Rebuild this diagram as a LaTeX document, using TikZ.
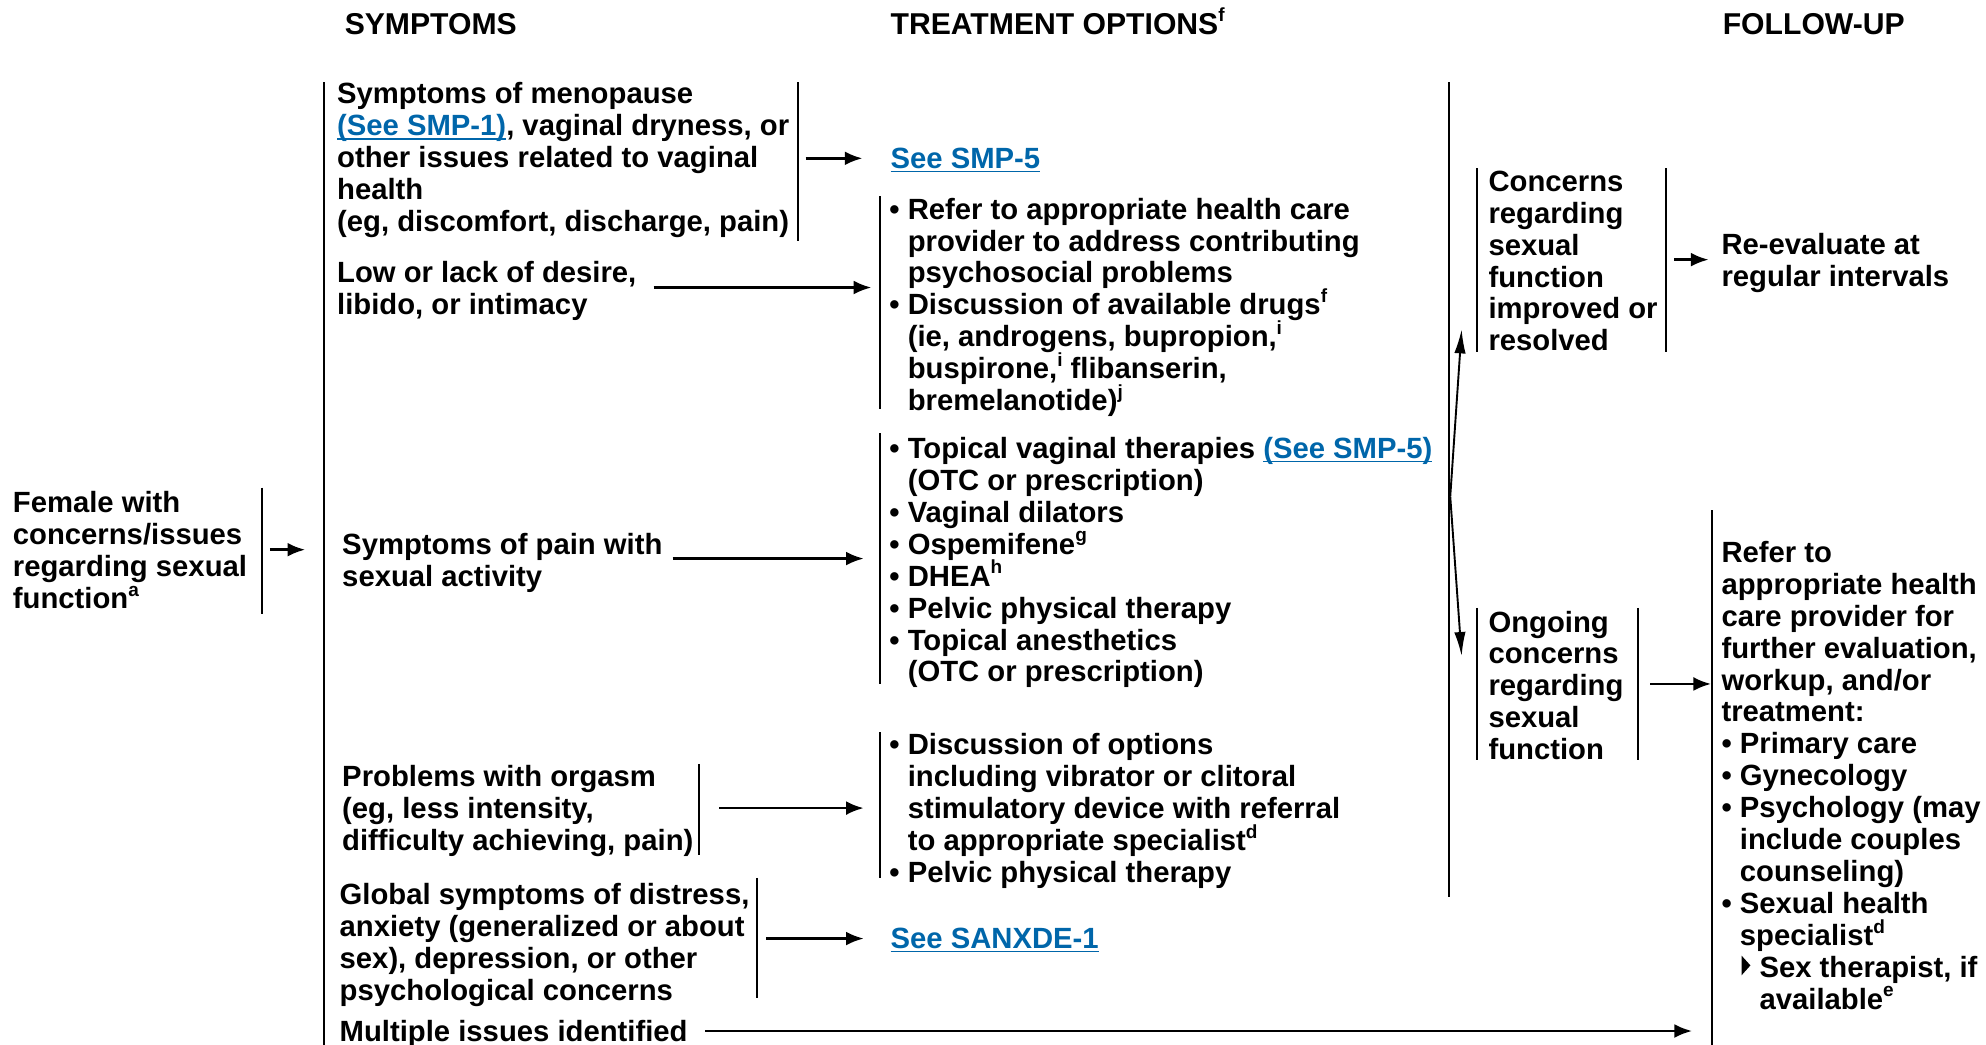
\documentclass[tikz,border=0pt]{standalone}
\usepackage{fontspec}
\setmainfont{Liberation Sans}
\usetikzlibrary{arrows.meta}
\definecolor{linkblue}{RGB}{0,102,170}
% raised footnote letters (kept out of the line height)
\newcommand\supr[1]{\raisebox{0.42em}[0pt][0pt]{\fontsize{15}{15}\selectfont #1}}
% underlined cross-reference
\newsavebox\lnkbox
\newcommand\lnk[1]{{\color{linkblue}\sbox\lnkbox{#1}\rlap{\rule[-3pt]{\wd\lnkbox}{1.3pt}}\usebox\lnkbox}}
% bullet and hanging indent
\newcommand\bul{•\ }
\newcommand\hang{\hphantom{•\ }}
% room for the drawn sub-bullet triangle
\newcommand\trihang{\hspace{15.5pt}}
\begin{document}
% multi-line nodes are placed by the baseline of their last line
\begin{tikzpicture}[x=1pt,y=-1pt,
  txt/.style={inner sep=0pt, anchor=base west, align=left,
    font=\bfseries\fontsize{23.1}{25.2}\selectfont},
  head/.style={inner sep=0pt, anchor=base west,
    font=\bfseries\fontsize{23.8}{25}\selectfont},
  bar/.style={line width=1.5pt},
  arr/.style={line width=2.2pt, -{Latex[length=14pt,width=11pt]}},
  thinarr/.style={line width=1.5pt, -{Latex[length=19pt,width=9pt]}}]
\useasboundingbox (0,0) rectangle (1568,825);

% column headings
\node[head] (hsym) at (272,27) {SYMPTOMS};
\node[head] (htreat) at (703,27) {TREATMENT OPTIONS\supr{f}};
\node[head] (hfol) at (1360,27) {FOLLOW-UP};

% entry point
\node[txt] (female) at (10,480.6) {Female with\\concerns/issues\\regarding sexual\\function\supr{a}};
\draw[bar] (207,385) -- (207,485);
\coordinate (femout) at (213,434);
\coordinate (symin) at (241,434);
\draw[arr] (femout) -- (symin);

% symptom column spine
\draw[bar] (256,65) -- (256,825);

% symptoms
\node[txt] (meno) at (266,182.8) {Symptoms of menopause\\\lnk{(See SMP-1)}, vaginal dryness, or\\other issues related to vaginal\\health\\(eg, discomfort, discharge, pain)};
\draw[bar] (630,65) -- (630,190);

\node[txt] (desire) at (266,248.2) {Low or lack of desire,\\libido, or intimacy};

\node[txt] (pain) at (270,463.2) {Symptoms of pain with\\sexual activity};

\node[txt] (orgasm) at (270,671.4) {Problems with orgasm\\(eg, less intensity,\\difficulty achieving, pain)};
\draw[bar] (552,603) -- (552,675);

\node[txt] (global) at (268,789.6) {Global symptoms of distress,\\anxiety (generalized or about\\sex), depression, or other\\psychological concerns};
\draw[bar] (598,693) -- (598,788);

\node[txt] (multi) at (268,822) {Multiple issues identified};

% treatment options
\node[txt] (smpfive) at (703,133) {\lnk{See SMP-5}};

\draw[bar] (695,155) -- (695,323);
\node[txt] (drugs) at (702,324.2) {\bul Refer to appropriate health care\\\hang provider to address contributing\\\hang psychosocial problems\\\bul Discussion of available drugs\supr{f}\\\hang (ie, androgens, bupropion,\supr{i}\\\hang buspirone,\supr{i} flibanserin,\\\hang bremelanotide)\supr{j}};

\draw[bar] (695,342) -- (695,540);
\node[txt] (topical) at (702,538.4) {\bul Topical vaginal therapies \lnk{(See SMP-5)}\\\hang (OTC or prescription)\\\bul Vaginal dilators\\\bul Ospemifene\supr{g}\\\bul DHEA\supr{h}\\\bul Pelvic physical therapy\\\bul Topical anesthetics\\\hang (OTC or prescription)};

\draw[bar] (695,578) -- (695,693);
\node[txt] (device) at (702,696.8) {\bul Discussion of options\\\hang including vibrator or clitoral\\\hang stimulatory device with referral\\\hang to appropriate specialist\supr{d}\\\bul Pelvic physical therapy};

\node[txt] (sanxde) at (703,749) {\lnk{See SANXDE-1}};

% symptom to treatment connectors
\coordinate (menoout) at (636,125);
\coordinate (smpin) at (681,125);
\draw[arr] (menoout) -- (smpin);
\coordinate (desireout) at (516,227);
\coordinate (drugsin) at (688,227);
\draw[arr] (desireout) -- (drugsin);
\coordinate (painout) at (531,441);
\coordinate (topicalin) at (682,441);
\draw[arr] (painout) -- (topicalin);
\coordinate (orgasmout) at (568,638);
\coordinate (devicein) at (682,638);
\draw[arr] (orgasmout) -- (devicein);
\coordinate (globalout) at (605,741);
\coordinate (sanxdein) at (682,741);
\draw[arr] (globalout) -- (sanxdein);

% follow-up spine and split
\draw[bar] (1144,65) -- (1144,708);
\coordinate (split) at (1145,392);
\coordinate (upin) at (1154,260);
\coordinate (downin) at (1154,518);
\draw[thinarr] (split) -- (upin);
\draw[thinarr] (split) -- (downin);

% follow-up outcomes
\draw[bar] (1166,133) -- (1166,278);
\draw[bar] (1315,133) -- (1315,278);
\node[txt] (improved) at (1175,277) {Concerns\\regarding\\sexual\\function\\improved or\\resolved};

\node[txt] (reeval) at (1359,226.2) {Re-evaluate at\\regular intervals};
\coordinate (improvedout) at (1322,205);
\coordinate (reevalin) at (1349,205);
\draw[arr] (improvedout) -- (reevalin);

\draw[bar] (1166,480) -- (1166,600);
\draw[bar] (1293,480) -- (1293,600);
\node[txt] (ongoing) at (1175,599.8) {Ongoing\\concerns\\regarding\\sexual\\function};

\draw[bar] (1352,403) -- (1352,825);
\node[txt] (refer) at (1359,796.8) {Refer to\\appropriate health\\care provider for\\further evaluation,\\workup, and/or\\treatment:\\\bul Primary care\\\bul Gynecology\\\bul Psychology (may\\\hang include couples\\\hang counseling)\\\bul Sexual health\\\hang specialist\supr{d}\\\hang\trihang Sex therapist, if\\\hang\trihang available\supr{e}};
% sub-bullet triangle
\fill (1375,754.5) -- (1375,770) -- (1382,762.2) -- cycle;
\coordinate (ongoingout) at (1303,540);
\coordinate (referin) at (1351,540);
\draw[arr] (ongoingout) -- (referin);

% multiple issues go straight to referral
\coordinate (multiout) at (557,814);
\coordinate (multiin) at (1336,814);
\draw[arr] (multiout) -- (multiin);
\end{tikzpicture}
\end{document}
